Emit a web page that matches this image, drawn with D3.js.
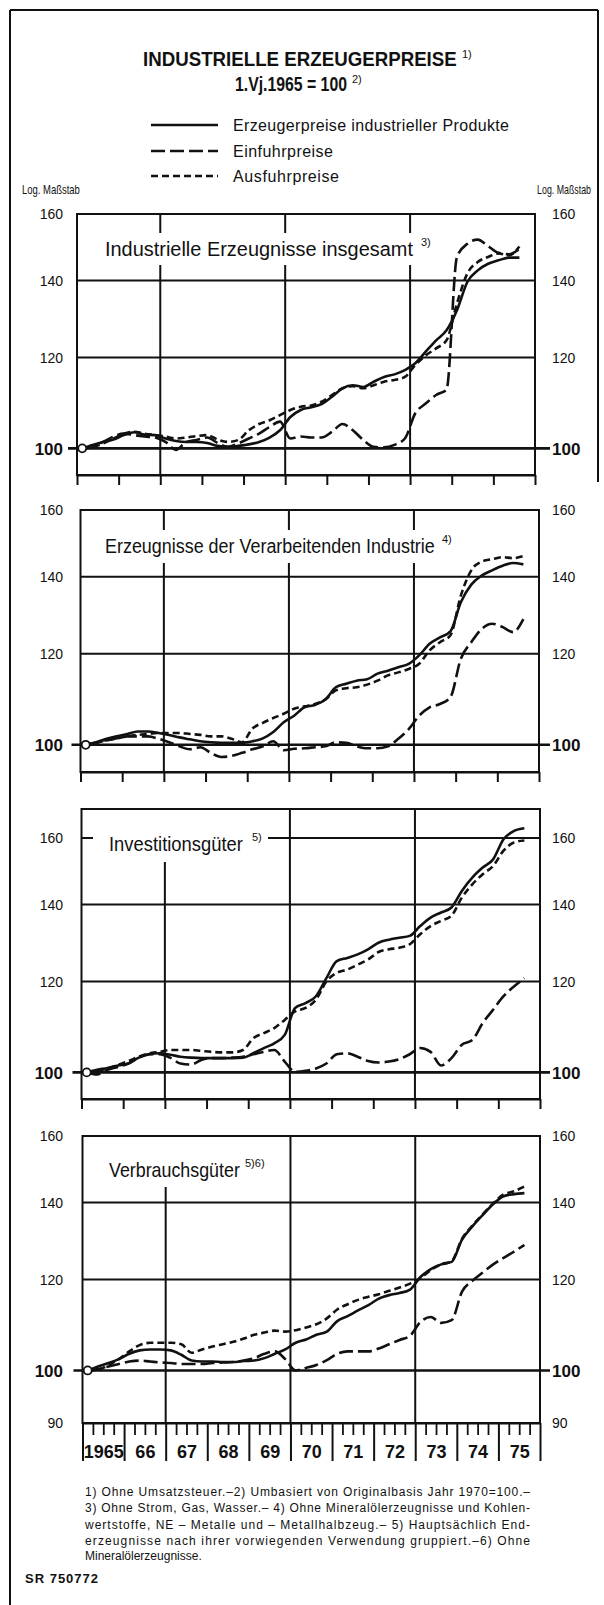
<!DOCTYPE html>
<html>
<head>
<meta charset="utf-8">
<script src="https://cdn.jsdelivr.net/npm/d3@7"></script>
<style>
body { margin: 0; background: #fff; }
svg { display: block; }
text { font-family: 'Liberation Sans Narrow', 'Liberation Sans', Arial, sans-serif; fill: #111; }
</style>
</head>
<body>
<div id="chart"></div>
<script>
// ---------------- data ----------------
var yearLabels = ['1965', '66', '67', '68', '69', '70', '71', '72', '73', '74', '75'];
var firstYear = 1965;
// quarterly values I/1965 ... III/1975, drawn at the middle of each quarter
var quarters = d3.range(43).map(function(i) { return firstYear + (i + 0.5) / 4; });

var legendLabels = ['Erzeugerpreise industrieller Produkte', 'Einfuhrpreise', 'Ausfuhrpreise'];
var panelTitles = ['Industrielle Erzeugnisse insgesamt', 'Erzeugnisse der Verarbeitenden Industrie', 'Investitionsgüter', 'Verbrauchsgüter'];
var panelNotes = ['3)', '4)', '5)', '5)6)'];
var panelTicks = [[100, 120, 140, 160], [100, 120, 140, 160], [100, 120, 140, 160], [90, 100, 120, 140, 160]];

// Industrielle Erzeugnisse insgesamt
var p1Erzeuger = [100, 100.7, 101.3, 101.8, 102.7, 103.3, 102.8, 102.7, 102.0, 101.5, 101.3, 101.3, 101.1, 100.5, 100.3, 100.5, 100.8, 101.3, 102.2, 103.7, 106.5, 108.0, 108.6, 109.3, 110.9, 112.8, 113.5, 113.1, 114.3, 115.4, 116.0, 117.0, 118.6, 121.4, 124.2, 126.7, 131.9, 139.6, 142.9, 144.8, 145.8, 146.6, 146.6];
var p1Einfuhr = [100, 100.3, 101.3, 102.4, 103.0, 102.7, 102.4, 102.2, 101.3, 99.7, 101.3, 101.7, 102.2, 101.1, 100.3, 101.0, 102.0, 103.0, 104.4, 105.5, 102.0, 102.4, 102.2, 102.2, 103.4, 105.0, 103.7, 101.7, 100.3, 100.2, 100.7, 102.0, 107.3, 109.4, 111.3, 112.5, 146.8, 150.7, 152.0, 150.0, 148.0, 147.6, 149.2];
var p1Ausfuhr = [100, 100.3, 101.0, 102.0, 103.0, 103.4, 103.0, 102.7, 102.4, 102.0, 102.2, 102.5, 102.7, 101.8, 101.3, 101.7, 103.7, 105.0, 105.8, 106.9, 108.0, 108.7, 109.0, 109.8, 111.3, 112.8, 113.3, 112.8, 113.5, 114.3, 114.7, 115.4, 118.2, 120.5, 122.2, 124.2, 133.7, 142.0, 145.3, 146.8, 147.8, 147.3, 149.9];

// Erzeugnisse der Verarbeitenden Industrie
var p2Erzeuger = [100, 100.5, 101.2, 101.7, 102.2, 102.7, 102.7, 102.4, 102.0, 101.5, 101.1, 100.7, 100.5, 100.4, 100.4, 100.4, 100.7, 101.3, 102.6, 104.6, 106.0, 107.8, 108.3, 109.5, 112.2, 113.0, 113.7, 114.0, 115.3, 116.0, 116.8, 117.6, 119.6, 122.4, 124.0, 125.5, 133.0, 137.8, 140.3, 141.8, 143.1, 143.9, 143.5];
var p2Einfuhr = [100, 100.4, 100.9, 101.3, 101.7, 101.7, 101.7, 101.2, 100.5, 99.7, 99.1, 99.5, 98.4, 97.6, 97.8, 98.4, 99.1, 99.7, 100.7, 98.9, 99.2, 99.3, 99.5, 99.7, 100.5, 100.4, 99.7, 99.3, 99.3, 99.7, 101.2, 103.2, 106.0, 107.8, 108.5, 110.0, 118.8, 122.8, 126.1, 127.4, 126.6, 125.3, 128.6];
var p2Ausfuhr = [100, 100.4, 100.9, 101.3, 101.7, 102.0, 102.2, 102.4, 102.4, 102.4, 102.2, 102.0, 101.7, 101.7, 101.2, 100.5, 103.3, 104.5, 105.5, 106.4, 107.5, 108.0, 108.5, 109.5, 111.5, 112.0, 112.2, 112.8, 113.7, 114.9, 115.6, 116.4, 117.6, 120.8, 122.8, 124.5, 134.8, 141.8, 144.3, 145.0, 145.6, 145.3, 145.9];

// Investitionsgüter
var p3Erzeuger = [100, 100.5, 100.9, 101.4, 101.8, 103.0, 103.7, 103.9, 103.6, 103.2, 103.0, 102.9, 102.9, 102.9, 102.9, 103.0, 103.9, 105.0, 106.0, 107.8, 113.8, 114.9, 116.5, 120.8, 125.0, 125.8, 126.7, 128.0, 129.7, 130.5, 131.0, 131.5, 134.1, 136.4, 137.8, 139.2, 143.9, 147.8, 150.8, 153.3, 159.6, 162.3, 163.2];
var p3Einfuhr = [100, 99.6, 100.5, 101.1, 101.8, 103.0, 103.7, 103.7, 103.0, 101.8, 101.6, 102.5, 102.9, 102.9, 103.0, 103.2, 103.7, 104.2, 104.6, 102.2, 100.1, 100.3, 100.8, 101.8, 103.7, 103.9, 103.2, 102.3, 102.0, 102.2, 102.7, 103.7, 105.0, 104.2, 101.4, 102.9, 105.7, 106.7, 110.4, 113.4, 116.5, 118.8, 120.8];
var p3Ausfuhr = [100, 100.3, 100.8, 101.5, 102.3, 103.2, 103.9, 104.2, 104.6, 104.6, 104.6, 104.4, 104.2, 104.1, 104.1, 104.6, 107.1, 108.2, 109.3, 111.1, 113.0, 113.8, 115.7, 120.0, 122.1, 122.9, 124.1, 125.4, 127.3, 128.0, 128.4, 129.3, 131.9, 134.1, 135.5, 136.9, 142.0, 145.8, 148.8, 151.3, 156.0, 158.6, 159.2];

// Verbrauchsgüter
var p4Erzeuger = [100, 100.8, 101.5, 102.3, 103.4, 104.1, 104.3, 104.3, 104.1, 103.2, 102.0, 101.8, 101.8, 101.7, 101.7, 101.9, 102.0, 102.5, 103.4, 104.3, 105.7, 106.4, 107.4, 108.1, 110.4, 111.5, 112.8, 114.0, 115.5, 116.3, 116.8, 117.6, 120.6, 122.5, 123.7, 124.3, 130.0, 133.5, 136.6, 139.6, 141.8, 142.4, 142.7];
var p4Einfuhr = [100, 100.3, 100.8, 101.3, 101.8, 102.0, 101.8, 101.6, 101.5, 101.3, 101.3, 101.3, 101.5, 101.6, 101.7, 102.0, 102.5, 103.4, 103.9, 102.3, 100.0, 100.5, 101.1, 102.1, 103.4, 103.9, 103.9, 103.9, 104.5, 105.4, 106.3, 107.2, 110.2, 111.3, 110.0, 110.6, 117.1, 119.7, 121.7, 123.7, 125.3, 126.9, 128.6];
var p4Ausfuhr = [100, 100.1, 101.1, 102.3, 103.9, 105.2, 105.7, 105.7, 105.7, 105.4, 103.6, 104.3, 104.9, 105.4, 105.9, 106.6, 107.4, 107.9, 108.3, 108.1, 108.4, 109.0, 109.7, 111.0, 113.0, 114.2, 115.2, 115.9, 116.5, 117.3, 118.1, 119.0, 120.3, 122.3, 123.7, 124.5, 130.2, 133.7, 136.8, 139.8, 142.3, 143.2, 144.6];

var footnotes = [
    '1) Ohne Umsatzsteuer.–2) Umbasiert von Originalbasis Jahr 1970=100.–',
    '3) Ohne Strom, Gas, Wasser.– 4) Ohne Mineralölerzeugnisse und Kohlen-',
    'wertstoffe, NE – Metalle und – Metallhalbzeug.– 5) Hauptsächlich End-',
    'erzeugnisse nach ihrer vorwiegenden Verwendung gruppiert.–6) Ohne',
    'Mineralölerzeugnisse.'
];

var panelSeries = [
    [p1Erzeuger, p1Einfuhr, p1Ausfuhr],
    [p2Erzeuger, p2Einfuhr, p2Ausfuhr],
    [p3Erzeuger, p3Einfuhr, p3Ausfuhr],
    [p4Erzeuger, p4Einfuhr, p4Ausfuhr]
];

// ---------------- layout ----------------
var width = 604, height = 1605;
var ink = '#111';
var lineWidth = 2.6;
var dashes = [null, '14,5', '7,4'];

// the scan is slightly skewed, so each panel has its own left/right edge
var layout = [
    {left: 77, right: 535, top: 214, bottom: 475, yMin: 94.8, yMax: 160,
     label: {x: 105, y: 256, len: 308, supX: 421}, box: [100, 233, 440, 265]},
    {left: 80.5, right: 539, top: 510, bottom: 772, yMin: 94.7, yMax: 160,
     label: {x: 105, y: 553, len: 330, supX: 442}, box: [100, 530, 456, 563]},
    {left: 81.5, right: 540, top: 809, bottom: 1099, yMin: 94.8, yMax: 169.6,
     label: {x: 109, y: 851, len: 134, supX: 252}, box: [93, 810, 268, 862]},
    {left: 82.5, right: 540, top: 1136, bottom: 1423, yMin: 90, yMax: 160,
     label: {x: 109, y: 1177, len: 131, supX: 245}, box: [93, 1137, 276, 1187]}
];

var svg = d3.select('#chart').append('svg')
    .attr('width', width)
    .attr('height', height);

svg.append('rect').attr('width', width).attr('height', height).attr('fill', '#fff');

// Squeeze a text to a given width: smaller font, stretched back up vertically
// (gives the condensed look of the original typeface)
function fitText(sel, target) {
    var natural = sel.node().getComputedTextLength();
    var k = target / natural;
    if (k < 1) {
        var fs = +sel.attr('font-size');
        var x = +sel.attr('x'), y = +sel.attr('y');
        sel.attr('font-size', fs * k)
            .attr('transform', 'translate(' + x + ',' + y + ') scale(1,' + (1 / k) + ') translate(' + (-x) + ',' + (-y) + ')');
    } else {
        sel.attr('textLength', target).attr('lengthAdjust', 'spacing');
    }
    return sel;
}

// outer border (right edge only visible in the upper part of the scan)
var border = svg.append('g').attr('stroke', ink).attr('stroke-width', 2);
border.append('line').attr('x1', 10).attr('y1', 10).attr('x2', 10).attr('y2', height);
border.append('line').attr('x1', 10).attr('y1', 10).attr('x2', 598).attr('y2', 10);
border.append('line').attr('x1', 598).attr('y1', 10).attr('x2', 598).attr('y2', 482);

// ---------------- title ----------------
fitText(svg.append('text')
    .attr('x', 143).attr('y', 66)
    .attr('font-size', 21).attr('font-weight', 'bold')
    .text('INDUSTRIELLE ERZEUGERPREISE'), 314);
svg.append('text')
    .attr('x', 462).attr('y', 58)
    .attr('font-size', 11)
    .text('1)');
fitText(svg.append('text')
    .attr('x', 235).attr('y', 91)
    .attr('font-size', 20).attr('font-weight', 'bold')
    .text('1.Vj.1965 = 100'), 112);
svg.append('text')
    .attr('x', 352).attr('y', 83)
    .attr('font-size', 11)
    .text('2)');

// ---------------- legend ----------------
var legendRows = [125, 151, 176];
var legendLens = [276, 100, 106];
legendLabels.forEach(function(lbl, i) {
    svg.append('line')
        .attr('x1', 151).attr('x2', 218)
        .attr('y1', legendRows[i]).attr('y2', legendRows[i])
        .attr('stroke', ink)
        .attr('stroke-width', lineWidth)
        .attr('stroke-dasharray', dashes[i]);
    fitText(svg.append('text')
        .attr('x', 233).attr('y', legendRows[i] + 6)
        .attr('font-size', 16)
        .text(lbl), legendLens[i]);
});

// scale notes
fitText(svg.append('text').attr('x', 22).attr('y', 194).attr('font-size', 12)
    .text('Log. Maßstab'), 58);
fitText(svg.append('text').attr('x', 591).attr('y', 194).attr('font-size', 12)
    .attr('text-anchor', 'end')
    .text('Log. Maßstab'), 54);

// ---------------- panels ----------------
function drawPanel(p, k) {
    var series = panelSeries[k];
    var ticks = panelTicks[k];
    var isLast = (k === layout.length - 1);

    var x = d3.scaleLinear().domain([firstYear, firstYear + 11]).range([p.left, p.right]);
    var y = d3.scaleLog().domain([p.yMin, p.yMax]).range([p.bottom, p.top]);

    var g = svg.append('g').attr('class', 'panel');

    // horizontal grid (inside the frame)
    g.selectAll('.hgrid')
        .data(ticks.filter(function(t) { return t > 100 && y(t) > p.top + 3; }))
        .enter().append('line')
        .attr('class', 'hgrid')
        .attr('x1', p.left).attr('x2', p.right)
        .attr('y1', function(d) { return y(d); })
        .attr('y2', function(d) { return y(d); })
        .attr('stroke', ink).attr('stroke-width', 2);

    // vertical grid at 1967, 1970, 1973
    g.selectAll('.vgrid')
        .data([1967, 1970, 1973])
        .enter().append('line')
        .attr('class', 'vgrid')
        .attr('x1', function(d) { return x(d); })
        .attr('x2', function(d) { return x(d); })
        .attr('y1', p.top).attr('y2', p.bottom)
        .attr('stroke', ink).attr('stroke-width', 2);

    // white box behind the panel title
    g.append('rect')
        .attr('x', p.box[0]).attr('y', p.box[1])
        .attr('width', p.box[2] - p.box[0]).attr('height', p.box[3] - p.box[1])
        .attr('fill', '#fff');
    fitText(g.append('text')
        .attr('x', p.label.x).attr('y', p.label.y)
        .attr('font-size', 21)
        .text(panelTitles[k]), p.label.len);
    g.append('text')
        .attr('x', p.label.supX).attr('y', p.label.y - 10)
        .attr('font-size', 11)
        .text(panelNotes[k]);

    // frame
    g.append('rect')
        .attr('x', p.left).attr('y', p.top)
        .attr('width', p.right - p.left).attr('height', p.bottom - p.top)
        .attr('fill', 'none')
        .attr('stroke', ink).attr('stroke-width', 2);

    // bottom axis
    if (!isLast) {
        var xAxis = d3.axisBottom(x)
            .tickValues(d3.range(firstYear, firstYear + 12))
            .tickSize(10).tickSizeOuter(0)
            .tickFormat('');
        g.append('g')
            .attr('transform', 'translate(0,' + p.bottom + ')')
            .call(xAxis)
            .call(function(a) {
                a.selectAll('line').attr('stroke', ink).attr('stroke-width', 2);
                a.select('.domain').attr('stroke', ink).attr('stroke-width', 2);
            });
    } else {
        var qAxis = d3.axisBottom(x)
            .tickValues(d3.range(firstYear * 4, (firstYear + 11) * 4).map(function(q) { return q / 4; })
                .filter(function(t) { return t % 1 !== 0; }))
            .tickSize(12).tickSizeOuter(0)
            .tickFormat('');
        g.append('g')
            .attr('transform', 'translate(0,' + p.bottom + ')')
            .call(qAxis)
            .call(function(a) {
                a.selectAll('line').attr('stroke', ink).attr('stroke-width', 1.8);
                a.select('.domain').attr('stroke', ink).attr('stroke-width', 2);
            });

        var yearAxis = d3.axisBottom(x)
            .tickValues(d3.range(firstYear, firstYear + 12))
            .tickSize(38).tickSizeOuter(0)
            .tickFormat('');
        g.append('g')
            .attr('transform', 'translate(0,' + p.bottom + ')')
            .call(yearAxis)
            .call(function(a) {
                a.selectAll('line').attr('stroke', ink).attr('stroke-width', 2);
                a.select('.domain').remove();
            });

        var labelAxis = d3.axisBottom(x)
            .tickValues(yearLabels.map(function(d, i) { return firstYear + i + 0.5; }))
            .tickSize(0).tickPadding(22)
            .tickFormat(function(d, i) { return yearLabels[i]; });
        g.append('g')
            .attr('transform', 'translate(0,' + p.bottom + ')')
            .call(labelAxis)
            .call(function(a) {
                a.select('.domain').remove();
                a.selectAll('text')
                    .attr('fill', ink)
                    .style('font-family', "'Liberation Sans', Arial, sans-serif")
                    .style('font-size', '18px')
                    .style('font-weight', 'bold');
            });
    }

    // 100 base line, running out of the frame on both sides
    g.append('line')
        .attr('x1', p.left - 9).attr('x2', 550)
        .attr('y1', y(100)).attr('y2', y(100))
        .attr('stroke', ink).attr('stroke-width', 2.6);

    // value labels left and right
    function styleLabels(a) {
        a.select('.domain').remove();
        a.selectAll('text')
            .attr('fill', ink)
            .attr('dy', '0.35em')
            .style('font-family', "'Liberation Sans Narrow', 'Liberation Sans', Arial, sans-serif")
            .style('font-size', function(d) { return d === 100 ? '17px' : '14px'; })
            .style('font-weight', function(d) { return d === 100 ? 'bold' : 'normal'; });
    }
    g.append('g')
        .attr('transform', 'translate(63,0)')
        .call(d3.axisLeft(y).tickValues(ticks).tickSize(0).tickPadding(0).tickFormat(d3.format('d')))
        .call(styleLabels);
    g.append('g')
        .attr('transform', 'translate(552,0)')
        .call(d3.axisRight(y).tickValues(ticks).tickSize(0).tickPadding(0).tickFormat(d3.format('d')))
        .call(styleLabels);

    // price lines
    var line = d3.line()
        .x(function(d, i) { return x(quarters[i]); })
        .y(function(d) { return y(d); })
        .curve(d3.curveMonotoneX);

    g.selectAll('.series')
        .data(series)
        .enter().append('path')
        .attr('class', 'series')
        .attr('d', function(d) { return line(d); })
        .attr('fill', 'none')
        .attr('stroke', ink)
        .attr('stroke-width', lineWidth)
        .attr('stroke-linejoin', 'round')
        .attr('stroke-dasharray', function(d, i) { return dashes[i]; });

    // start marker (base quarter)
    g.append('circle')
        .attr('cx', x(quarters[0])).attr('cy', y(series[0][0]))
        .attr('r', 4)
        .attr('fill', '#fff')
        .attr('stroke', ink).attr('stroke-width', 1.8);
}

layout.forEach(drawPanel);

// ---------------- footnotes ----------------
// first four lines are justified to the full width, the last one runs free
var noteRows = [1496, 1512, 1529, 1545, 1560];
footnotes.forEach(function(t, i) {
    var note = svg.append('text')
        .attr('x', 85).attr('y', noteRows[i])
        .attr('font-size', 12)
        .text(t);
    if (i < 4) fitText(note, 445);
});

fitText(svg.append('text')
    .attr('x', 25).attr('y', 1583)
    .attr('font-size', 13).attr('font-weight', 'bold')
    .text('SR 750772'), 73);
</script>
</body>
</html>
